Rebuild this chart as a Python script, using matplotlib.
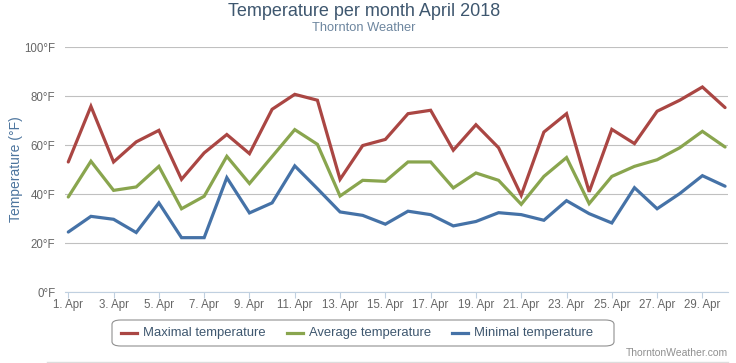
import matplotlib
matplotlib.use("Agg")
import matplotlib.pyplot as plt
from matplotlib.patches import FancyBboxPatch
from matplotlib.lines import Line2D

days = list(range(1, 31))
max_temp = [53.2, 75.9, 53.2, 61.4, 66.1, 46.1, 56.9, 64.4, 56.6, 74.7,
            80.8, 78.4, 46.1, 59.9, 62.4, 72.9, 74.3, 58.0, 68.4, 59.0,
            39.6, 65.4, 72.9, 41.0, 66.5, 60.7, 73.9, 78.4, 83.8, 75.4]
avg_temp = [38.9, 53.5, 41.6, 43.0, 51.4, 34.1, 39.2, 55.5, 44.4, 55.4,
            66.4, 60.4, 39.3, 45.7, 45.3, 53.2, 53.2, 42.6, 48.7, 45.7,
            35.9, 47.3, 55.0, 36.2, 47.3, 51.4, 54.1, 59.0, 65.7, 59.3]
min_temp = [24.6, 31.0, 29.8, 24.4, 36.5, 22.3, 22.3, 46.8, 32.4, 36.5,
            51.6, 42.3, 32.8, 31.4, 27.8, 33.1, 31.7, 27.1, 28.9, 32.5,
            31.7, 29.4, 37.4, 32.1, 28.3, 42.7, 34.1, 40.3, 47.6, 43.3]
x_ticks = list(range(1, 31, 2))
x_labels = [f"{d}. Apr" for d in x_ticks]
y_ticks = [0, 20, 40, 60, 80, 100]
y_labels = [f"{v}°F" for v in y_ticks]
series_names = ["Maximal temperature", "Average temperature", "Minimal temperature"]
colors = ["#AA4643", "#89A54E", "#4572A7"]

plt.rcParams["font.family"] = ["Liberation Sans", "DejaVu Sans"]

W, H = 736, 363
fig = plt.figure(figsize=(W / 100, H / 100), dpi=100)
left, right, top, bottom = 65, 728, 47.3, 292.3
ax = fig.add_axes([left / W, 1 - bottom / H, (right - left) / W, (bottom - top) / H])

for vals, c in zip([max_temp, avg_temp, min_temp], colors):
    ax.plot(days, vals, color=c, lw=2.3, solid_joinstyle="miter", solid_capstyle="round", zorder=3)

ax.set_xlim(0.855, 30.13)
ax.set_ylim(0, 100)
ax.set_yticks(y_ticks)
ax.set_yticklabels(y_labels)
ax.set_xticks(x_ticks)
ax.set_xticklabels(x_labels)
ax.tick_params(axis="y", length=0, pad=7, labelsize=8.3, labelcolor="#666666")
ax.tick_params(axis="x", length=4, width=0.8, color="#C0D0E0", pad=1, labelsize=8.3, labelcolor="#666666")
ax.grid(axis="y", color="#C0C0C0", lw=0.8)
for s in ["top", "right", "left"]:
    ax.spines[s].set_visible(False)
ax.spines["bottom"].set_color("#C0D0E0")
ax.spines["bottom"].set_linewidth(0.8)
ax.spines["bottom"].set_zorder(2.5)

fig.text(364 / W, 1 - 12 / H, "Temperature per month April 2018", ha="center", va="center",
         fontsize=13, color="#3E576F")
fig.text(364 / W, 1 - 28 / H, "Thornton Weather", ha="center", va="center",
         fontsize=9.3, color="#6D869F")
fig.text(16 / W, 1 - 169 / H, "Temperature (°F)", ha="center", va="center", rotation=90,
         fontsize=10, color="#4D759E")

# legend box
box = FancyBboxPatch((112 / W, 1 - 346 / H), (614 - 112) / W, (346 - 320) / H,
                     boxstyle="round,pad=0,rounding_size=0.012", transform=fig.transFigure,
                     facecolor="white", edgecolor="#909090", lw=0.8)
fig.patches.append(box)
item_x = [121, 287, 452]
for xi, name, c in zip(item_x, series_names, colors):
    yl = 1 - 333 / H
    fig.lines.append(Line2D([xi / W, (xi + 16) / W], [yl, yl], transform=fig.transFigure,
                            color=c, lw=2.3))
    fig.text((xi + 22) / W, yl, name, ha="left", va="center", fontsize=9.4, color="#3E576F")

fig.text(728 / W, 1 - 353 / H, "ThorntonWeather.com", ha="right", va="center",
         fontsize=7.5, color="#909090")
fig.lines.append(Line2D([47 / W, 728 / W], [1 - 361.5 / H, 1 - 361.5 / H], transform=fig.transFigure,
                        color="#DDDDDD", lw=1))

fig.savefig("out.png", dpi=100)
